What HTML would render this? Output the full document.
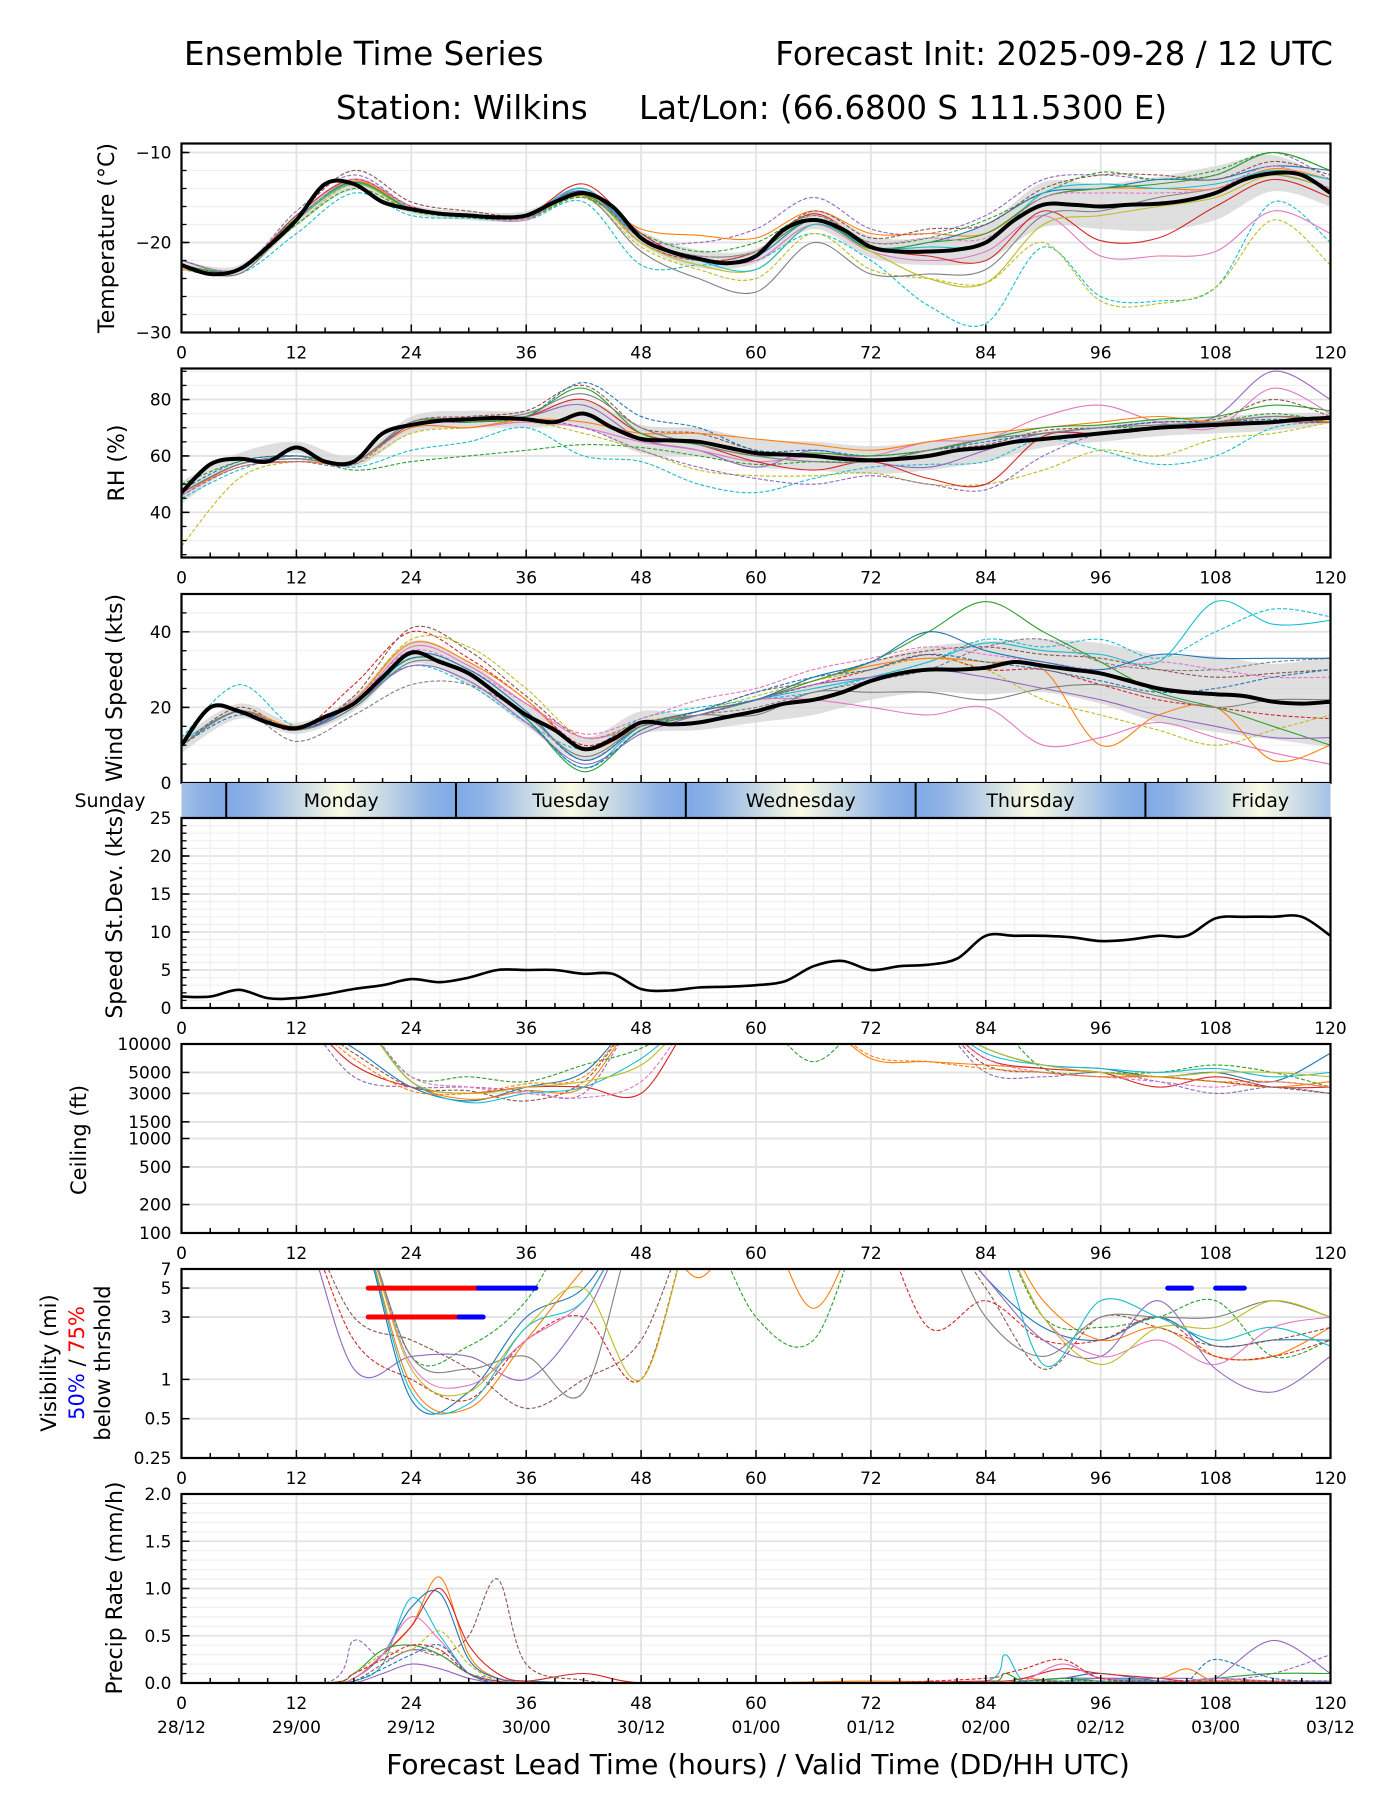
<!DOCTYPE html>
<html><head><meta charset="utf-8">
<style>
html,body{margin:0;padding:0;background:#fff;}
svg{display:block;font-family:"DejaVu Sans","Liberation Sans",sans-serif;}
</style></head>
<body>
<svg id="fig" width="1400" height="1800" viewBox="0 0 1400 1800" xmlns="http://www.w3.org/2000/svg">
<rect x="0" y="0" width="1400" height="1800" fill="#fff"/>
<text x="184" y="65" font-size="32.5">Ensemble Time Series</text>
<text x="1333" y="65" font-size="32.5" text-anchor="end">Forecast Init: 2025-09-28 / 12 UTC</text>
<text x="336" y="119" font-size="32.5">Station: Wilkins</text>
<text x="639" y="119" font-size="32.5">Lat/Lon: (66.6800 S 111.5300 E)</text>
<text x="758" y="1774" font-size="28" text-anchor="middle">Forecast Lead Time (hours) / Valid Time (DD/HH UTC)</text>
</svg>
<script>
// ---------- DATA ----------
const hours3 = [0,3,6,9,12,15,18,21,24,27,30,33,36,39,42,45,48,51,54,57,60,63,66,69,72,75,78,81,84,87,90,93,96,99,102,105,108,111,114,117,120];
const hours6 = [0,6,12,18,24,30,36,42,48,54,60,66,72,78,84,90,96,102,108,114,120];
const xTickLabels = ["0","12","24","36","48","60","72","84","96","108","120"];
const dateLabels = ["28/12","29/00","29/12","30/00","30/12","01/00","01/12","02/00","02/12","03/00","03/12"];
const dayNames = ["Sunday","Monday","Tuesday","Wednesday","Thursday","Friday"];
const dayBoundaries = [4.67,28.67,52.67,76.67,100.67];

const tempMean = [-22.5,-23.5,-23,-20.5,-17.5,-13.5,-13.5,-15.5,-16.3,-16.8,-17,-17.2,-17,-15.5,-14.5,-16,-19.5,-21,-21.8,-22.3,-21.5,-18.5,-17.5,-18.5,-20.5,-21,-21,-20.8,-20,-17.5,-15.8,-15.8,-16,-15.8,-15.7,-15.3,-14.5,-13,-12.3,-12.5,-14.5];
const tempBand = [0.5,0.5,0.7,0.7,0.5,0.5,0.5,0.6,0.8,1,0.8,1,1.2,1.5,2,2.5,2.5,3,3,2,1.5];
const tempM1 = [-23,-23.5,-19,-14.5,-17,-17.3,-17.5,-15.5,-22.5,-22.5,-22,-19,-22,-27,-29,-20.5,-26,-26.5,-25,-15.5,-20];
const tempM2 = [-22,-23,-18,-13.5,-16.5,-17,-17.3,-15,-20.5,-23,-24,-19,-23,-24,-24.5,-20,-26.5,-26.8,-25,-17.5,-22.5];
const tempM3 = [-22,-23,-17.5,-13,-16,-17,-17.5,-14,-20,-22,-22,-18,-21,-22,-21,-17,-21.5,-21.5,-21,-16.5,-19];
const tempM4 = [-22.5,-23,-17,-13,-16,-17,-17,-13.5,-19,-22,-21,-16.8,-20.5,-21.5,-22,-16.5,-19.8,-19.5,-16,-13,-15];
const tempM5 = [-22.5,-23.5,-17.5,-13.5,-16.3,-17,-17.2,-14.8,-21,-24,-25.5,-20,-23.5,-23.5,-23,-17,-16.5,-15,-14,-12.5,-14];
const tempM6 = [-22,-23,-16.5,-12.5,-16,-17,-17,-14,-19.5,-20,-18.5,-15,-18.5,-19,-17,-13,-12.5,-13,-12.5,-10,-13];
const tempM7 = [-23,-23,-17.5,-13.2,-16.2,-17,-17,-14.8,-18.5,-19.2,-19.5,-16.5,-19,-19,-19,-15,-14,-14,-14,-11.8,-13];
const tempM8 = [-22.5,-23,-18,-14,-16.5,-17.2,-17.3,-15,-19,-21,-20,-17,-20,-19.5,-17.5,-14.5,-12.2,-13,-12,-10,-12];
const tempM9 = [-22,-23,-17.5,-13.5,-16.3,-17,-17,-14.3,-19.5,-22,-21.5,-17.5,-20.5,-20,-18,-14.5,-14,-13,-13,-11.5,-12];
const tempM10 = [-22,-23,-17,-12,-15.5,-16.5,-17,-14.5,-20,-22,-21,-16.5,-19.5,-18.5,-18,-14,-12.5,-12.5,-13,-11,-12.5];
const tempM11 = [-22.5,-23,-17.5,-13.5,-16.3,-17,-17,-14.5,-20,-22.5,-23,-18,-21,-24,-24.5,-18,-17,-16,-15,-12.5,-14];
const tempM12 = [-22.5,-23,-17.5,-13.4,-16.2,-17,-17,-14,-19.5,-22,-23,-18,-20.5,-20.5,-20,-14.5,-13.5,-14,-13.5,-12,-13];
const tempM13 = [-22.5,-23,-17.3,-13.3,-16.3,-17,-17.2,-14.7,-19.5,-21.5,-21,-17.5,-20.7,-20,-19,-15,-14,-13.5,-12.5,-10,-12];
const tempM14 = [-22,-23,-17.5,-13,-16,-17,-17.3,-14.5,-19.5,-21.5,-21,-17,-20,-19.5,-19.5,-15,-14.5,-14.5,-14,-11.5,-14];

const rhMean = [47,57,59,58,63,58,58,68,71,72.5,73,73.5,73,72,75,70,66,65.5,65,63,61,60.5,60,59,58.5,59,60,62,63,65,66,67,68,69,70,70.5,71,71.5,72,73,73.5];
const rhBand = [4,2,2,2,3,3,3,5,5,5,5,5,5,5,5,3,3,3,3,3,2];
const rhM1 = [45,55,60,56,62,65,70,60,58,50,47,52,56,57,58,66,62,57,60,70,72];
const rhM2 = [28,52,58,57,68,70,72,68,62,55,53,53,54,50,50,55,62,60,66,68,72];
const rhM3 = [50,58,60,55,58,60,62,64,63,60,57,58,58,62,66,68,70,70,72,75,72];
const rhM4 = [47,57,60,58,71,73,74,78,66,62,56,62,58,56,62,68,68,70,74,90,80];
const rhM5 = [46,57,58,58,70,70,72,70,65,62,58,60,60,65,66,74,78,72,70,84,75];
const rhM6 = [47,57,59,58,71,72,74,80,68,64,58,55,58,52,50,67,68,70,72,72,72];
const rhM7 = [47,57,59,58,72,74,76,85,70,68,62,60,58,62,64,69,70,72,73,80,74];
const rhM8 = [48,58,60,58,71,72,74,86,74,70,62,62,60,62,65,68,70,72,72,73,72];
const rhM9 = [47,56,58,58,70,70,73,72,68,68,66,64,62,65,68,70,72,74,72,74,72];
const rhM10 = [46,56,58,57,71,72,73,70,62,56,52,50,53,50,48,60,68,70,72,74,73];
const rhM11 = [47,57,59,58,72,72,74,84,68,64,60,61,60,62,66,70,71,73,74,78,76];
const rhM12 = [47,57,59,58,72,73,75,82,70,64,60,58,58,62,66,68,70,71,72,74,73];

const windMean = [10,20,19,16,14.5,17.5,21,28,34.5,32,29,23.5,18,14,9,11.5,16,15.5,16,17.5,19,21,22,24,27,29,30,30,30.5,32,31,30,29,27,25,24,23.5,23,21.5,21,21.5];
const windBand = [2,2,1.5,2,3,3,3,3,3,2,3,4,5,6,7,7,8,9,10,10,12];
const windM1 = [12,26,15,22,31,26,16,9,17,20,22,24,28,32,38,36,38,33,40,46,44];
const windM2 = [11,19,14,20,33,29,17,4,15,18,22,25,28,32,37,35,34,32,48,42,43];
const windM3 = [10,19,11,18,26,26,18,6,15,18,20,24,27,30,36,38,32,30,30,32,33];
const windM4 = [10,19,14,26,40,33,22,10,16,18,22,26,30,34,30,30,26,22,20,18,17];
const windM5 = [10,20,14,23,41,35,23,12,16,19,24,27,32,35,36,34,33,30,28,29,30];
const windM6 = [10,19,14,22,38,36,25,12,16,19,23,27,30,33,30,22,18,14,10,14,18];
const windM7 = [10,19,14,21,36,31,21,12,15,18,22,22,20,18,20,10,12,16,12,8,5];
const windM8 = [10,19,15,22,37,32,22,9,15,19,22,27,31,33,32,30,10,18,20,6,10];
const windM9 = [10,19,14,21,33,29,17,3,14,18,22,27,32,40,48,40,32,24,20,15,10];
const windM10 = [10,19,14,21,31,27,16,5,13,18,22,26,28,30,28,25,22,18,15,12,12];
const windM11 = [10,18,14,21,33,29,17,4,14,19,24,28,30,34,32,30,27,24,25,28,30];
const windM12 = [10,19,14,22,35,30,21,13,17,22,25,30,33,36,34,32,30,32,30,28,28];
const windM13 = [10,19,14,21,34,30,19,6,15,19,22,28,32,40,35,32,30,34,33,33,33];
const windM14 = [10,19,14,20,32,29,18,7,15,18,18,24,24,24,22,25,26,23,20,22,22];

const stdevValues = [1.5,1.5,2.4,1.3,1.3,1.8,2.5,3,3.8,3.4,4,5,5,5,4.5,4.5,2.5,2.3,2.7,2.8,3,3.5,5.5,6.2,5,5.5,5.7,6.5,9.5,9.5,9.5,9.3,8.8,9,9.5,9.5,11.8,12,12,12,9.5];

const ceilTicks = [100,200,500,1000,1500,3000,5000,10000];
const ceilM1 = [2e4,2e4,2e4,9000,3500,2500,3500,5000,2e4,2e4,2e4,2e4,2e4,2e4,9000,6000,5500,4500,5000,4000,8000];
const ceilM2 = [2e4,2e4,2e4,2e4,4000,2600,3200,3500,2e4,2e4,2e4,2e4,7000,6500,6000,5500,5000,4500,4000,3500,4000];
const ceilM3 = [2e4,2e4,2e4,2e4,4500,4500,4000,6000,9000,2e4,2e4,6500,2e4,2e4,2e4,5500,5000,5000,6000,5000,3500];
const ceilM4 = [2e4,2e4,2e4,6000,3500,3000,3500,3500,3000,2e4,2e4,2e4,2e4,2e4,7000,5500,5000,3500,4500,3500,3500];
const ceilM5 = [2e4,2e4,2e4,4500,3500,3500,3200,3000,2e4,2e4,2e4,2e4,2e4,2e4,5000,4500,5000,4000,3000,3500,3000];
const ceilM6 = [2e4,2e4,2e4,8000,3500,3200,2500,4000,2e4,2e4,2e4,2e4,2e4,2e4,6000,5000,4500,4500,4000,3500,3000];
const ceilM7 = [2e4,2e4,2e4,2e4,4000,2400,3000,3500,7000,2e4,2e4,2e4,2e4,2e4,8000,6000,5500,5000,5500,4500,5000];
const ceilM8 = [2e4,2e4,2e4,2e4,4500,3500,3000,2700,4000,2e4,2e4,2e4,2e4,2e4,7000,5000,4500,4000,3500,4000,3500];
const ceilM9 = [2e4,2e4,2e4,2e4,4000,3000,3500,4000,6000,2e4,2e4,2e4,2e4,2e4,9000,6000,5000,4500,5000,5000,4500];
const ceilM10 = [2e4,2e4,2e4,7000,3200,3000,3800,4500,2e4,2e4,2e4,2e4,7500,6500,5500,5000,4500,4500,4000,4000,3500];

const visTicks = [0.25,0.5,1,3,5,7];
const visM1 = [20,20,20,20,0.7,0.8,3,5,20,20,20,20,20,20,6,2.5,2,3,1.8,2,2];
const visM2 = [20,20,20,20,0.9,0.6,2,7,20,6,20,3.5,20,20,20,4,2,2.5,1.5,1.5,2.5];
const visM3 = [20,20,20,20,1.5,1.8,4,20,20,20,3,2,20,20,20,3,2.5,3,4,1.5,2];
const visM4 = [20,20,20,2,1,0.7,2,3,1,20,20,20,20,2.5,4,2,2,3,1.5,1.5,2];
const visM5 = [20,20,20,1.2,1.5,1.5,1,3,20,20,20,20,20,20,6,2,1.5,4,1.2,0.8,1.5];
const visM6 = [20,20,20,3,2,1.2,0.6,1,2,20,20,20,20,20,5,1.2,3,2.5,1.8,2,2.5];
const visM7 = [20,20,20,20,1.3,0.9,2,4,20,20,20,20,20,20,20,3,1.5,2,1.3,2.5,3];
const visM8 = [20,20,20,20,1.5,1.2,1.5,0.8,20,20,20,20,20,20,3,1.5,3,3,3,4,3];
const visM9 = [20,20,20,20,1.2,0.8,2.5,5,1,20,20,20,20,20,20,3,1.3,2.5,2.5,4,3];
const visM10 = [20,20,20,20,0.8,0.65,2.5,4,20,20,20,20,20,20,20,1.3,4,3,2,2.5,1.8];
const visRed5 = [19.5,31];
const visBlue5 = [[31,37],[103,105.5],[108,111]];
const visRed3 = [19.5,29];
const visBlue3 = [[29,31.5]];

const precipHours = [0,15,18,21,24,27,30,33,36,42,48,60,72,84,86,88,92,96,102,105,108,114,120];
const precipM1 = [0,0,0.05,0.3,0.6,1.12,0.3,0.05,0.02,0,0,0,0.02,0,0,0.05,0.02,0.05,0.05,0.15,0.02,0.02,0.02];
const precipM2 = [0,0,0.05,0.3,0.8,0.95,0.25,0.05,0.02,0,0,0,0,0,0,0.02,0.05,0.1,0.02,0.02,0.05,0.02,0.02];
const precipM3 = [0,0,0.02,0.2,0.9,0.5,0.1,0.02,0,0,0,0,0,0.02,0.3,0.02,0.02,0.05,0.02,0.02,0.02,0.02,0.02];
const precipM4 = [0,0,0.05,0.3,0.6,1.0,0.4,0.1,0.02,0.1,0,0,0,0.02,0.02,0.05,0.15,0.1,0.05,0.02,0.02,0.02,0.02];
const precipM5 = [0,0,0.02,0.2,0.35,0.3,0.5,1.1,0.2,0.03,0,0,0,0,0,0,0.02,0.02,0.02,0.02,0.05,0.02,0.02];
const precipM6 = [0,0,0.45,0.25,0.35,0.3,0.1,0.05,0,0,0,0,0,0,0,0,0,0,0.02,0.02,0.02,0.1,0.3];
const precipM7 = [0,0,0,0.1,0.2,0.15,0.05,0,0,0,0,0,0,0,0,0.02,0.05,0.05,0.05,0.05,0.05,0.45,0.1];
const precipM8 = [0,0,0.1,0.35,0.4,0.3,0.1,0.02,0,0,0,0,0,0,0.1,0.02,0.05,0.02,0.02,0.02,0.05,0.1,0.1];
const precipM9 = [0,0,0.1,0.3,0.35,0.55,0.2,0.02,0,0,0,0,0,0,0,0.02,0.02,0.02,0.02,0.02,0.02,0.02,0.02];
const precipM10 = [0,0,0.05,0.3,0.7,0.45,0.1,0.02,0,0,0,0,0,0,0,0.02,0.2,0.05,0.02,0.02,0.05,0.02,0.02];
const precipM11 = [0,0,0.1,0.25,0.4,0.35,0.1,0.02,0,0,0,0,0,0.05,0.1,0.15,0.25,0.05,0.02,0.02,0.02,0.02,0.02];
const precipM12 = [0,0,0.02,0.15,0.3,0.4,0.1,0,0,0,0,0,0,0,0,0.02,0.02,0.02,0.02,0.02,0.25,0.05,0.02];

// ---------- STYLE / LAYOUT ----------
const C = ["#1f77b4","#ff7f0e","#2ca02c","#d62728","#9467bd","#8c564b","#e377c2","#7f7f7f","#bcbd22","#17becf"];
const X0 = 181.5, X1 = 1330.5;
const NS = "http://www.w3.org/2000/svg";
const svg = document.getElementById("fig");
function xs(h){ return X0 + h*(X1-X0)/120; }
function mk(tag, attrs, parent){
  const e = document.createElementNS(NS, tag);
  for (const k in attrs) e.setAttribute(k, attrs[k]);
  (parent||svg).appendChild(e);
  return e;
}
function smoothPath(pts){
  if (pts.length < 2) return "";
  let d = "M"+pts[0][0].toFixed(1)+","+pts[0][1].toFixed(1);
  for (let i=0;i<pts.length-1;i++){
    const p0 = pts[Math.max(0,i-1)], p1 = pts[i], p2 = pts[i+1], p3 = pts[Math.min(pts.length-1,i+2)];
    const c1x = p1[0]+(p2[0]-p0[0])/6, c1y = p1[1]+(p2[1]-p0[1])/6;
    const c2x = p2[0]-(p3[0]-p1[0])/6, c2y = p2[1]-(p3[1]-p1[1])/6;
    d += " C"+c1x.toFixed(1)+","+c1y.toFixed(1)+" "+c2x.toFixed(1)+","+c2y.toFixed(1)+" "+p2[0].toFixed(1)+","+p2[1].toFixed(1);
  }
  return d;
}
let clipId = 0;
function makePanel(name, top, bot, ys, yMajor, yMajorLabels, yMinor, xLabels, dates){
  const g = mk("g", {});
  
  
  const cid = "clip"+(clipId++);
  const cp = mk("clipPath", {id:cid}, g);
  mk("rect", {x:X0, y:top, width:X1-X0, height:bot-top}, cp);
  yMinor.forEach(v=>{ const y=ys(v); mk("line",{x1:X0,x2:X1,y1:y,y2:y,stroke:"#f0f0f0","stroke-width":1.2},g); });
  for (let h=0; h<=120; h+=12){ const x=xs(h); mk("line",{x1:x,x2:x,y1:top,y2:bot,stroke:"#e3e3e3","stroke-width":1.8},g); }
  yMajor.forEach(v=>{ const y=ys(v); mk("line",{x1:X0,x2:X1,y1:y,y2:y,stroke:"#e3e3e3","stroke-width":1.8},g); });
  const plot = mk("g", {"clip-path":"url(#"+cid+")"}, g);
  
  
  const ax = mk("g", {}, g);
  for (let h=0; h<=120; h+=3){
    const x=xs(h), len = (h%12===0)?8:5;
    mk("line",{x1:x,x2:x,y1:bot,y2:bot-len,stroke:"#000","stroke-width":1.5},ax);
  }
  yMinor.forEach(v=>{ const y=ys(v); mk("line",{x1:X0,x2:X0+5,y1:y,y2:y,stroke:"#000","stroke-width":1.3},ax); });
  yMajor.forEach((v,i)=>{
    const y=ys(v);
    mk("line",{x1:X0,x2:X0+8,y1:y,y2:y,stroke:"#000","stroke-width":1.5},ax);
    const t = mk("text",{x:X0-10,y:y+6,"font-size":17,"text-anchor":"end"},ax);
    t.textContent = yMajorLabels[i];
    
    
  });
  if (xLabels){
    xTickLabels.forEach((lab,i)=>{
      const t = mk("text",{x:xs(i*12),y:bot+26,"font-size":17,"text-anchor":"middle"},ax);
      t.textContent = lab;
      
      
    });
  }
  if (dates){
    dateLabels.forEach((lab,i)=>{
      const t = mk("text",{x:xs(i*12),y:bot+50,"font-size":17,"text-anchor":"middle"},ax);
      t.textContent = lab;
      
      
    });
  }
  const fr = mk("rect",{x:X0,y:top,width:X1-X0,height:bot-top,fill:"none",stroke:"#000","stroke-width":2.2},g);
  
  
  return plot;
}
function yLabel(text, x, cy, name, size){
  const t = mk("text",{x:0,y:0,"font-size":size||22,"text-anchor":"middle",transform:"translate("+x+","+cy+") rotate(-90)"});
  t.textContent = text;
  
  
  return t;
}
function drawLine(plot, hrs, vals, ys, color, dashed, width, name){
  const pts = hrs.map((h,i)=>[xs(h), ys(vals[i])]);
  const p = mk("path",{d:smoothPath(pts),fill:"none",stroke:color,"stroke-width":width||1.1,"stroke-dasharray":dashed?"4,2":"none","stroke-linejoin":"round"},plot);
  
  
  return p;
}
function drawBand(plot, mean, band, ys, name){
  const up=[], lo=[];
  hours6.forEach((h,i)=>{ const m = mean[i*2]; up.push([xs(h), ys(m+band[i])]); lo.push([xs(h), ys(m-band[i])]); });
  const d = smoothPath(up) + " L" + smoothPath(lo.slice().reverse()).slice(1) + " Z";
  const p = mk("path",{d:d,fill:"#d4d4d4","fill-opacity":0.75,stroke:"none"},plot);
  
  
}
function lin(top,bot,vmin,vmax){ return v => bot - (v-vmin)/(vmax-vmin)*(bot-top); }
function logs(top,bot,vmin,vmax){ return v => bot - (Math.log(v)-Math.log(vmin))/(Math.log(vmax)-Math.log(vmin))*(bot-top); }
function range(a,b,s){ const r=[]; for(let v=a; v<=b+1e-9; v+=s) r.push(+v.toFixed(4)); return r; }

// ---------- TEMPERATURE ----------
{
  const top=143.5, bot=332.5, ys=lin(top,bot,-30,-9);
  const plot = makePanel("temperature", top, bot, ys, [-30,-20,-10], ["\u221230","\u221220","\u221210"], range(-30,-10,2), true, false);
  drawBand(plot, tempMean, tempBand, ys, "temperature-spread-band");
  const mem = [tempM1,tempM2,tempM3,tempM4,tempM5,tempM6,tempM7,tempM8,tempM9,tempM10,tempM11,tempM12,tempM13,tempM14];
  const col = [C[9],C[8],C[6],C[3],C[7],C[4],C[1],C[2],C[0],C[5],C[8],C[9],C[2],C[6]];
  const dsh = [1,1,0,0,0,1,0,1,0,1,0,0,0,1];
  mem.forEach((m,i)=>drawLine(plot, hours6, m, ys, col[i], dsh[i], 1.1, "temperature-member"));
  drawLine(plot, hours3, tempMean, ys, "#000", false, 4, "temperature-ensemble-mean");
  yLabel("Temperature (\u00b0C)", 114, 238, "temperature-y-axis-title");
}
// ---------- RH ----------
{
  const top=368.5, bot=557.5, ys=lin(top,bot,24,91);
  const plot = makePanel("rh", top, bot, ys, [40,60,80], ["40","60","80"], range(25,90,5), true, false);
  drawBand(plot, rhMean, rhBand, ys, "rh-spread-band");
  const mem = [rhM1,rhM2,rhM3,rhM4,rhM5,rhM6,rhM7,rhM8,rhM9,rhM10,rhM11,rhM12];
  const col = [C[9],C[8],C[2],C[4],C[6],C[3],C[5],C[0],C[1],C[4],C[2],C[7]];
  const dsh = [1,1,1,0,0,0,1,1,0,1,0,0];
  mem.forEach((m,i)=>drawLine(plot, hours6, m, ys, col[i], dsh[i], 1.1, "rh-member"));
  drawLine(plot, hours3, rhMean, ys, "#000", false, 4, "rh-ensemble-mean");
  yLabel("RH (%)", 124, 463, "rh-y-axis-title");
}
// ---------- WIND ----------
{
  const top=594, bot=783, ys=lin(top,bot,0,50);
  const plot = makePanel("wind-speed", top, bot, ys, [0,20,40], ["0","20","40"], range(0,50,5), false, false);
  drawBand(plot, windMean, windBand, ys, "wind-spread-band");
  const mem = [windM1,windM2,windM3,windM4,windM5,windM6,windM7,windM8,windM9,windM10,windM11,windM12,windM13,windM14];
  const col = [C[9],C[9],C[7],C[3],C[5],C[8],C[6],C[1],C[2],C[4],C[0],C[6],C[0],C[7]];
  const dsh = [1,0,1,1,1,1,0,0,0,0,1,1,0,0];
  mem.forEach((m,i)=>drawLine(plot, hours6, m, ys, col[i], dsh[i], 1.1, "wind-member"));
  drawLine(plot, hours3, windMean, ys, "#000", false, 4, "wind-ensemble-mean");
  yLabel("Wind Speed (kts)", 122, 688, "wind-y-axis-title");
}
// ---------- DAY BAND ----------
{
  const top=783, bot=818;
  const defs = mk("defs",{});
  const grad = mk("linearGradient",{id:"dayGrad",gradientUnits:"userSpaceOnUse",x1:xs(dayBoundaries[0]-24),y1:0,x2:xs(dayBoundaries[dayBoundaries.length-1]+24),y2:0},defs);
  const start = dayBoundaries[0]-24, total = (dayBoundaries[dayBoundaries.length-1]+24) - start;
  for (let d=0; d<6; d++){
    const b = start + d*24;
    [[0,"#7fa9e6"],[0.12,"#8fb3e6"],[0.5,"#fbfbe4"],[0.88,"#8fb3e6"],[1,"#7fa9e6"]].forEach(s=>{
      mk("stop",{offset:((b + s[0]*24 - start)/total).toFixed(4),"stop-color":s[1]},grad);
    });
  }
  const g = mk("g",{});
  
  
  mk("rect",{x:X0,y:top,width:X1-X0,height:bot-top,fill:"url(#dayGrad)"},g);
  dayBoundaries.forEach(b=>{
    const l = mk("line",{x1:xs(b),x2:xs(b),y1:top,y2:bot,stroke:"#000","stroke-width":2},g);
    
    
  });
  dayNames.forEach((n,i)=>{
    const cx = i===0 ? 110 : xs(dayBoundaries[i-1]+12);
    const t = mk("text",{x:cx,y:top+24,"font-size":19,"text-anchor":"middle"},g);
    t.textContent = n;
    
    
  });
}
// ---------- STDEV ----------
{
  const top=818, bot=1008, ys=lin(top,bot,0,25);
  const plot = makePanel("speed-stdev", top, bot, ys, [0,5,10,15,20,25], ["0","5","10","15","20","25"], range(0,25,1), true, false);
  for (let h=3; h<120; h+=3){ if (h%12) mk("line",{x1:xs(h),x2:xs(h),y1:top,y2:bot,stroke:"#f0f0f0","stroke-width":1.2},plot); }
  drawLine(plot, hours3, stdevValues, ys, "#000", false, 2.6, "speed-stdev-line");
  yLabel("Speed St.Dev. (kts)", 122, 913, "stdev-y-axis-title");
}
// ---------- CEILING ----------
{
  const top=1044, bot=1233, ys=logs(top,bot,100,10000);
  const plot = makePanel("ceiling", top, bot, ys, ceilTicks, ceilTicks.map(String), [], true, false);
  const mem = [ceilM1,ceilM2,ceilM3,ceilM4,ceilM5,ceilM6,ceilM7,ceilM8,ceilM9,ceilM10];
  const col = [C[0],C[1],C[2],C[3],C[4],C[5],C[9],C[6],C[8],C[1]];
  const dsh = [0,0,1,0,1,1,0,1,0,1];
  mem.forEach((m,i)=>drawLine(plot, hours6, m, ys, col[i], dsh[i], 1.1, "ceiling-member"));
  yLabel("Ceiling (ft)", 86, 1140, "ceiling-y-axis-title", 21);
}
// ---------- VISIBILITY ----------
{
  const top=1269, bot=1458, ys=logs(top,bot,0.25,7);
  const plot = makePanel("visibility", top, bot, ys, visTicks, ["0.25","0.5","1","3","5","7"], [], true, false);
  const mem = [visM1,visM2,visM3,visM4,visM5,visM6,visM7,visM8,visM9,visM10];
  const col = [C[0],C[1],C[2],C[3],C[4],C[5],C[6],C[7],C[8],C[9]];
  const dsh = [0,0,1,1,0,1,0,0,0,0];
  mem.forEach((m,i)=>drawLine(plot, hours6, m, ys, col[i], dsh[i], 1.1, "visibility-member"));
  function bar(seg, v, color, name){
    const y = ys(v);
    const l = mk("line",{x1:xs(seg[0]),x2:xs(seg[1]),y1:y,y2:y,stroke:color,"stroke-width":5,"stroke-linecap":"round"},plot);
    
    
  }
  bar(visRed5, 5, "#ff0000", "vis-75pct-5mi-bar");
  visBlue5.forEach(s=>bar(s, 5, "#0000ff", "vis-50pct-5mi-bar"));
  bar(visRed3, 3, "#ff0000", "vis-75pct-3mi-bar");
  visBlue3.forEach(s=>bar(s, 3, "#0000ff", "vis-50pct-3mi-bar"));
  yLabel("Visibility (mi)", 56, 1363, "visibility-y-axis-title", 21);
  const t = mk("text",{x:0,y:0,"font-size":21,"text-anchor":"middle",transform:"translate(84,1363) rotate(-90)"});
  
  
  const s1 = mk("tspan",{fill:"#0000ff"},t); s1.textContent = "50%";
  const s2 = mk("tspan",{fill:"#000"},t); s2.textContent = " / ";
  const s3 = mk("tspan",{fill:"#ff0000"},t); s3.textContent = "75%";
  yLabel("below thrshold", 110, 1363, "visibility-threshold-caption", 21);
}
// ---------- PRECIP ----------
{
  const top=1494, bot=1683, ys=lin(top,bot,0,2);
  const plot = makePanel("precip-rate", top, bot, ys, [0,0.5,1,1.5,2], ["0.0","0.5","1.0","1.5","2.0"], range(0,2,0.1), true, true);
  const mem = [precipM1,precipM2,precipM3,precipM4,precipM5,precipM6,precipM7,precipM8,precipM9,precipM10,precipM11,precipM12];
  const col = [C[1],C[0],C[9],C[3],C[5],C[4],C[4],C[2],C[8],C[6],C[3],C[0]];
  const dsh = [0,0,0,0,1,1,0,0,1,0,1,1];
  mem.forEach((m,i)=>drawLine(plot, precipHours, m, ys, col[i], dsh[i], 1.1, "precip-member"));
  yLabel("Precip Rate (mm/h)", 122, 1588, "precip-y-axis-title");
}
</script>
</body></html>
